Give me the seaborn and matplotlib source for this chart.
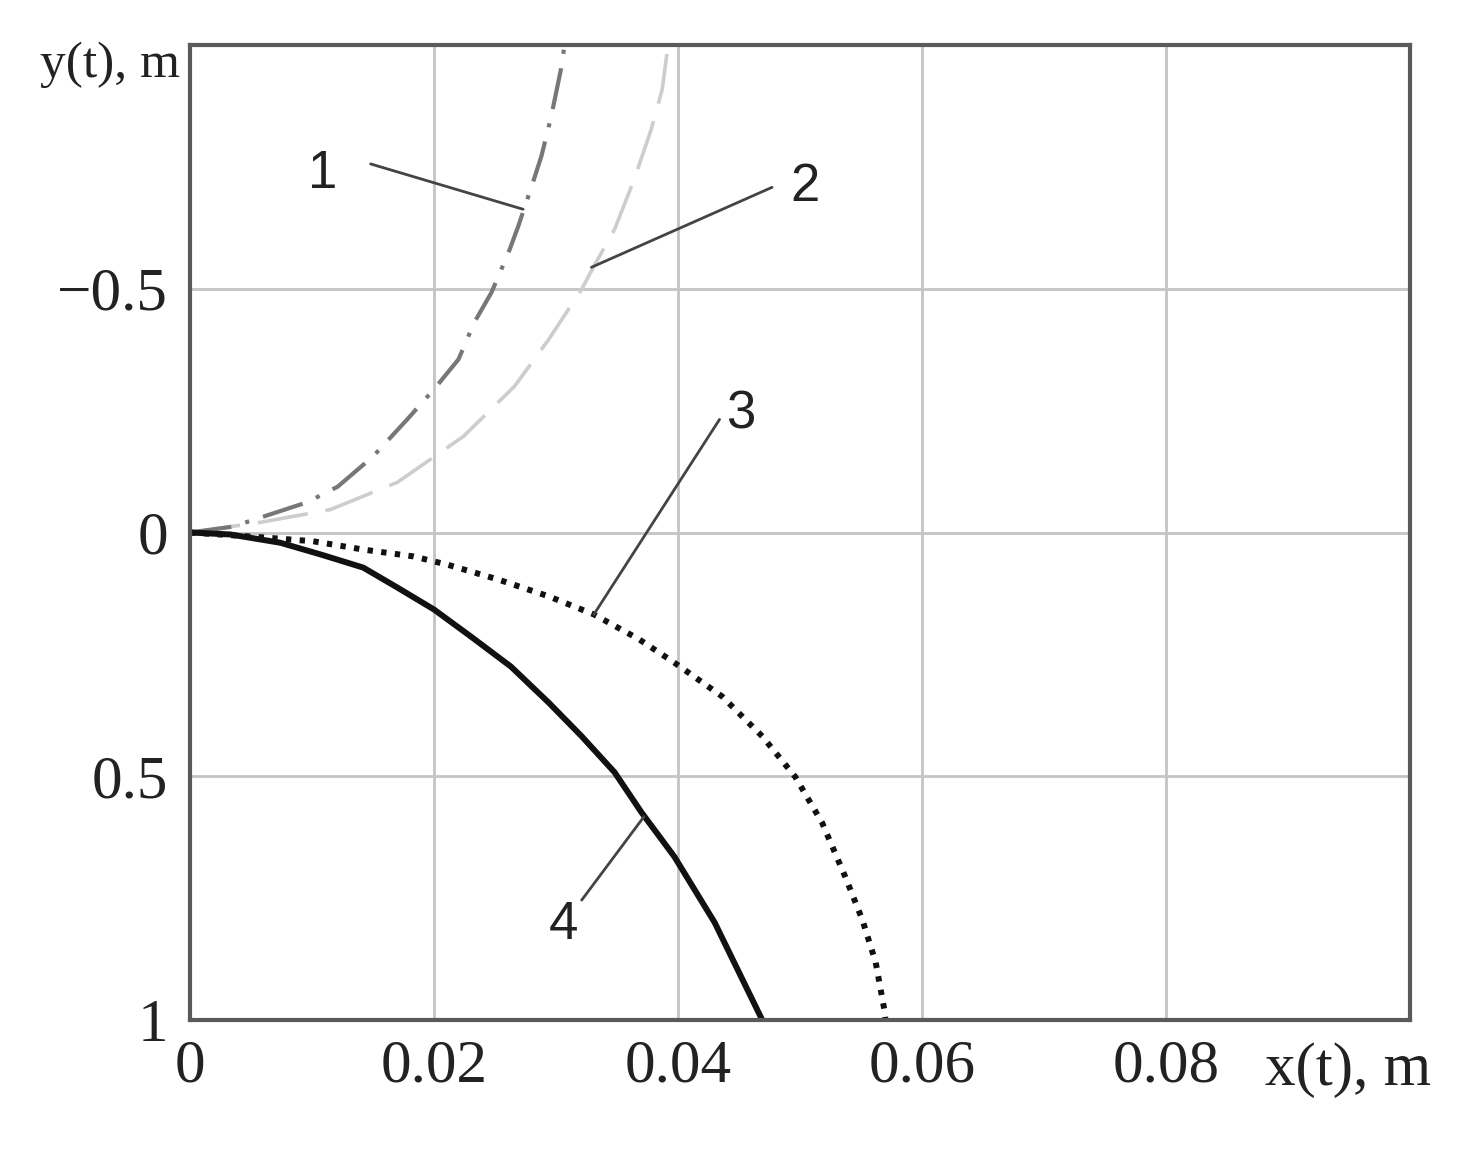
import matplotlib
matplotlib.use("Agg")
import matplotlib.pyplot as plt
import seaborn as sns

# curve 1 (dash-dot), curve 2 (dashed), curve 3 (dotted), curve 4 (solid)
x1 = [0.0, 0.0035, 0.0096, 0.0121, 0.0150, 0.0178, 0.0200, 0.0220, 0.0233, 0.0247,
      0.0261, 0.0269, 0.0280, 0.0288, 0.0296, 0.0304, 0.0307]
y1 = [0.0, -0.012, -0.062, -0.094, -0.156, -0.232, -0.294, -0.355, -0.431, -0.492,
      -0.574, -0.628, -0.710, -0.772, -0.853, -0.950, -1.0]

x2 = [0.0, 0.0058, 0.0115, 0.0170, 0.0224, 0.0266, 0.0294, 0.0321, 0.0331, 0.0348,
      0.0364, 0.0378, 0.0387, 0.0391, 0.0393]
y2 = [0.0, -0.021, -0.047, -0.103, -0.197, -0.300, -0.396, -0.499, -0.546, -0.622,
      -0.724, -0.827, -0.909, -0.985, -1.0]

x3 = [0.0, 0.0060, 0.0101, 0.0142, 0.0183, 0.0211, 0.0252, 0.0294, 0.0331, 0.0368,
      0.0397, 0.0436, 0.0469, 0.0496, 0.0518, 0.0537, 0.0551, 0.0562, 0.0569, 0.0570]
y3 = [0.0, 0.010, 0.018, 0.035, 0.049, 0.066, 0.096, 0.131, 0.168, 0.219,
      0.267, 0.336, 0.418, 0.501, 0.595, 0.706, 0.794, 0.882, 0.978, 1.0]

x4 = [0.0, 0.0033, 0.0074, 0.0107, 0.0142, 0.0170, 0.0200, 0.0230, 0.0263, 0.0294,
      0.0321, 0.0348, 0.0370, 0.0397, 0.0430, 0.0469]
y4 = [0.0, 0.004, 0.021, 0.045, 0.072, 0.113, 0.158, 0.213, 0.275, 0.349,
      0.418, 0.492, 0.574, 0.665, 0.800, 1.0]

curve_labels = ["1", "2", "3", "4"]
label_pos = [(0.0109, -0.735), (0.0504, -0.708), (0.0451, -0.242), (0.0306, 0.805)]
leader_from = [(0.0148, -0.756), (0.0477, -0.708), (0.0434, -0.232), (0.0321, 0.754)]
leader_to = [(0.0273, -0.663), (0.0329, -0.544), (0.0331, 0.168), (0.0372, 0.583)]

xticks = [0, 0.02, 0.04, 0.06, 0.08]
xtick_labels = ["0", "0.02", "0.04", "0.06", "0.08"]
yticks = [-0.5, 0, 0.5, 1]
ytick_labels = ["\u22120.5", "0", "0.5", "1"]

sns.set_theme(style="whitegrid")
plt.rcParams["font.family"] = ["Liberation Serif", "DejaVu Serif"]

fig = plt.figure(figsize=(14.64, 11.5), dpi=100)
ax = fig.add_axes([0.1298, 0.113, 0.8334, 0.8479])

sns.lineplot(x=x2, y=y2, ax=ax, sort=False, estimator=None, color="#cdcdcd",
             lw=2.6, linestyle=(0, (14, 5)))
sns.lineplot(x=x1, y=y1, ax=ax, sort=False, estimator=None, color="#777777",
             lw=3, linestyle=(0, (10, 3.5, 1, 3.5)))
sns.lineplot(x=x3, y=y3, ax=ax, sort=False, estimator=None, color="#111111",
             lw=4.3, linestyle=(0, (0.9, 1.4)))
sns.lineplot(x=x4, y=y4, ax=ax, sort=False, estimator=None, color="#111111",
             lw=4.3)

for lab, pos, p0, p1 in zip(curve_labels, label_pos, leader_from, leader_to):
    ax.plot([p0[0], p1[0]], [p0[1], p1[1]], color="#444444", lw=2)
    ax.text(pos[0], pos[1], lab, fontsize=38, family=["Liberation Sans", "DejaVu Sans"],
            ha="center", va="center", color="#222222")

ax.set_xlim(0, 0.1)
ax.set_ylim(1, -1)
ax.set_xticks(xticks)
ax.set_xticklabels(xtick_labels, fontsize=44)
ax.set_yticks(yticks)
ax.set_yticklabels(ytick_labels, fontsize=44)
ax.tick_params(axis="both", length=0, colors="#222222")
ax.tick_params(axis="x", pad=14)
ax.tick_params(axis="y", pad=16)

# axis names sit where the last tick labels would be
ax.text(0.949, -0.067, "x(t), m", transform=ax.transAxes, fontsize=44,
        ha="center", va="baseline", color="#222222")
ax.text(-0.008, 0.98, "y(t), m", transform=ax.transAxes, fontsize=37,
        ha="right", va="center", color="#222222")

ax.grid(True, color="#c4c4c4", lw=2)
ax.set_facecolor("white")
for s in ax.spines.values():
    s.set_color("#5a5a5a")
    s.set_linewidth(3)
ax.set_xlabel("")
ax.set_ylabel("")

fig.savefig("out.png", dpi=100, facecolor="white")
